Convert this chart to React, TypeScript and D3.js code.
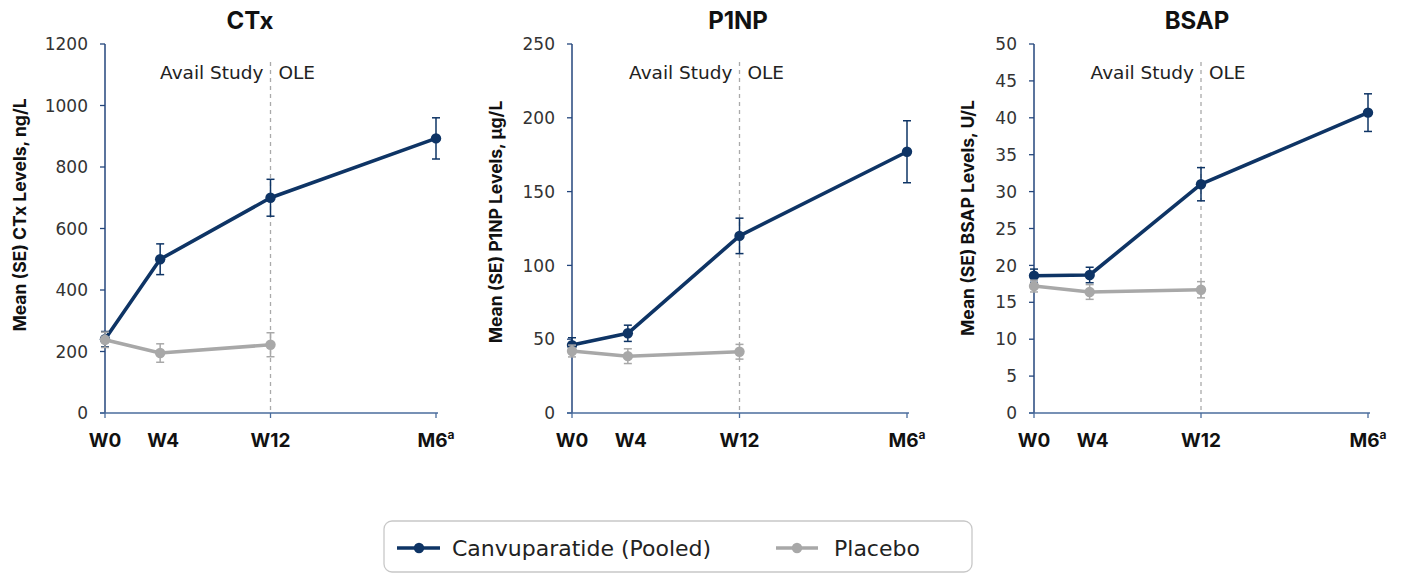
import React from "react";
import * as d3 from "d3";

const weeks = [0, 4, 12, 24];
const xLabels = ["W0", "W4", "W12", "M6"];
const titles = ["CTx", "P1NP", "BSAP"];
const yTitles = ["Mean (SE) CTx Levels, ng/L", "Mean (SE) P1NP Levels, µg/L", "Mean (SE) BSAP Levels, U/L"];
const yMaxes = [1200, 250, 50];
const yTickSteps = [200, 50, 5];

const ctxDrug = [240, 500, 700, 893];
const ctxDrugSE = [25, 50, 60, 67];
const ctxPbo = [238, 195, 222];
const ctxPboSE = [25, 30, 39];

const p1npDrug = [46, 54, 120, 177];
const p1npDrugSE = [5, 5.5, 12, 21];
const p1npPbo = [42, 38.5, 41.5];
const p1npPboSE = [4, 5, 5];

const bsapDrug = [18.6, 18.7, 31.0, 40.7];
const bsapDrugSE = [0.9, 1.05, 2.25, 2.55];
const bsapPbo = [17.2, 16.4, 16.7];
const bsapPboSE = [0.8, 1.0, 1.1];

const drugs = [ctxDrug, p1npDrug, bsapDrug];
const drugSEs = [ctxDrugSE, p1npDrugSE, bsapDrugSE];
const pbos = [ctxPbo, p1npPbo, bsapPbo];
const pboSEs = [ctxPboSE, p1npPboSE, bsapPboSE];

const NAVY = "#0e3465";
const GRAY = "#a8a8a8";
const FONT = "Inter, 'Noto Sans', sans-serif";
const WIDE = "'DejaVu Sans', sans-serif";

const panelX0 = [105, 572, 1034];
const panelX1 = [436, 907, 1368];
const titleX = [250, 738, 1197];
const yTitleX = [20, 496, 968];
const yTitleY = [215, 222, 218];
const Y0 = 413;
const Y1 = 44;

function Series({ x, y, vals, se, color }: any) {
  const line = d3
    .line<number>()
    .x((_, i) => x(weeks[i]))
    .y((d) => y(d));
  return (
    <g>
      {vals.map((v: number, i: number) => (
        <g key={"e" + i} stroke={color} strokeWidth={1.5}>
          <line x1={x(weeks[i])} x2={x(weeks[i])} y1={y(v - se[i])} y2={y(v + se[i])} />
          <line x1={x(weeks[i]) - 4} x2={x(weeks[i]) + 4} y1={y(v - se[i])} y2={y(v - se[i])} />
          <line x1={x(weeks[i]) - 4} x2={x(weeks[i]) + 4} y1={y(v + se[i])} y2={y(v + se[i])} />
        </g>
      ))}
      <path d={line(vals) || ""} fill="none" stroke={color} strokeWidth={3.6} strokeLinejoin="round" />
      {vals.map((v: number, i: number) => (
        <circle key={"c" + i} cx={x(weeks[i])} cy={y(v)} r={5.2} fill={color} />
      ))}
    </g>
  );
}

function Panel({ idx }: { idx: number }) {
  const x = d3.scaleLinear().domain([0, 24]).range([panelX0[idx], panelX1[idx]]);
  const y = d3.scaleLinear().domain([0, yMaxes[idx]]).range([Y0, Y1]);
  const ticks = d3.range(0, yMaxes[idx] + yTickSteps[idx] / 2, yTickSteps[idx]);
  const ax = x(0);
  const x12 = x(12);
  return (
    <g>
      <text x={titleX[idx]} y={29} textAnchor="middle" fontSize={24} fontWeight={700} fill="#111">
        {titles[idx]}
      </text>
      <text
        transform={`translate(${yTitleX[idx] + 6},${yTitleY[idx]}) rotate(-90)`}
        textAnchor="middle"
        fontSize={17.5}
        fontWeight={700}
        fill="#111"
      >
        {yTitles[idx]}
      </text>
      {/* dashed separator */}
      <line x1={x12} x2={x12} y1={62} y2={Y0} stroke="#aaa" strokeWidth={1.3} strokeDasharray="4,4" />
      <text x={x12 - 7} y={79} textAnchor="end" fontSize={18.5} fill="#222" fontFamily={WIDE}>
        Avail Study
      </text>
      <text x={x12 + 8} y={79} textAnchor="start" fontSize={18.5} fill="#222" fontFamily={WIDE}>
        OLE
      </text>
      {/* y axis */}
      <line x1={ax} x2={ax} y1={Y1} y2={Y0} stroke="#24467c" strokeWidth={1.5} />
      {ticks.map((t) => (
        <g key={t}>
          <line x1={ax - 5} x2={ax} y1={y(t)} y2={y(t)} stroke="#24467c" strokeWidth={1.3} />
          <text x={ax - 17} y={y(t)} dy="0.36em" textAnchor="end" fontSize={17} fill="#333" fontFamily={WIDE}>
            {t}
          </text>
        </g>
      ))}
      {/* x axis */}
      <line x1={ax - 5} x2={x(24) + 2} y1={Y0} y2={Y0} stroke="#4a6c9c" strokeWidth={1.5} />
      {[0, 12, 24].map((w) => (
        <line key={w} x1={x(w)} x2={x(w)} y1={Y0} y2={Y0 + 5} stroke="#4a6c9c" strokeWidth={1.3} />
      ))}
      {xLabels.map((l, i) => (
        <text key={l} x={x(weeks[i]) + (i === 1 ? 3 : 0)} y={447} textAnchor="middle" fontSize={19} fontWeight={700} fill="#111">
          {l}
          {i === 3 ? (
            <tspan fontSize={12} dy={-8}>
              a
            </tspan>
          ) : null}
        </text>
      ))}
      <Series x={x} y={y} vals={drugs[idx]} se={drugSEs[idx]} color={NAVY} />
      <Series x={x} y={y} vals={pbos[idx]} se={pboSEs[idx]} color={GRAY} />
    </g>
  );
}

export default function App() {
  return (
    <svg
      width={1407}
      height={574}
      style={{ position: "absolute", left: 0, top: 0, background: "#fff" }}
      fontFamily={FONT}
    >
      <rect width={1407} height={574} fill="#fff" />
      {[0, 1, 2].map((i) => (
        <Panel key={i} idx={i} />
      ))}
      {/* legend */}
      <rect x={384} y={521} width={588} height={51} rx={8} fill="#fff" stroke="#c8c8c8" strokeWidth={1.3} />
      <line x1={397} x2={440} y1={548} y2={548} stroke={NAVY} strokeWidth={3.6} />
      <circle cx={419} cy={548} r={5.2} fill={NAVY} />
      <text x={452} y={548} dy="0.36em" fontSize={22} fill="#222" fontFamily={WIDE}>
        Canvuparatide (Pooled)
      </text>
      <line x1={776} x2={818} y1={548} y2={548} stroke={GRAY} strokeWidth={3.6} />
      <circle cx={797} cy={548} r={5.2} fill={GRAY} />
      <text x={834} y={548} dy="0.36em" fontSize={22} fill="#222" fontFamily={WIDE}>
        Placebo
      </text>
    </svg>
  );
}
